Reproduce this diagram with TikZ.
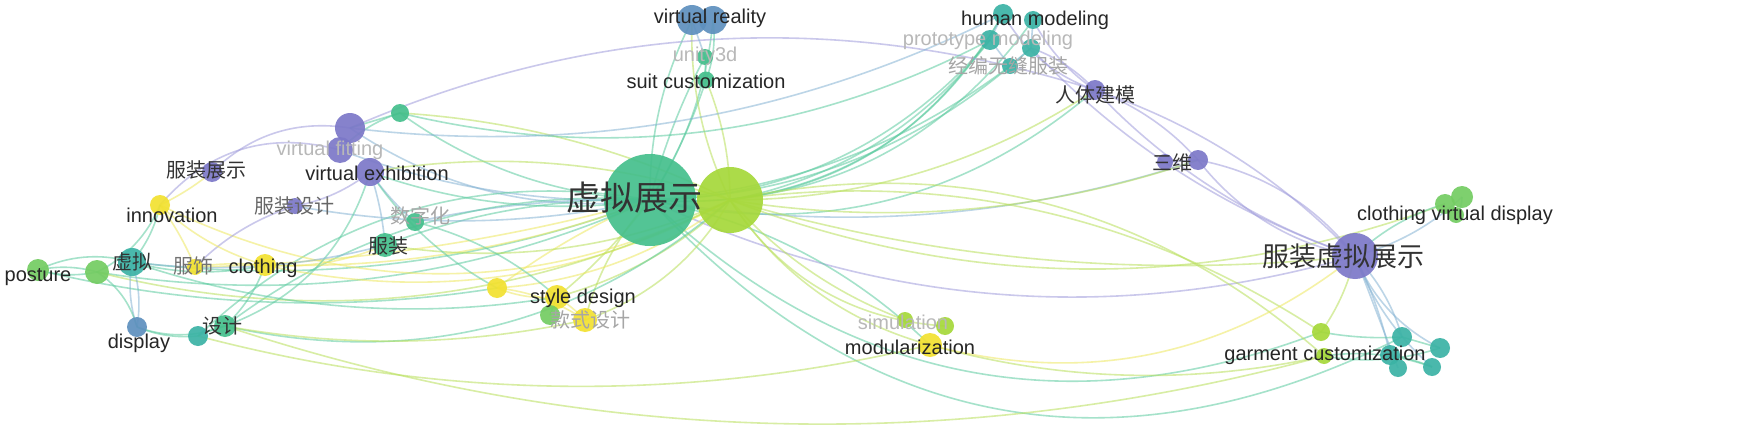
\documentclass[tikz,border=0pt]{standalone}
\usepackage{fontspec}
\setmainfont{Liberation Sans}
\newfontfamily\cjk{Noto Sans CJK SC}
\usetikzlibrary{backgrounds,calc}
\pgfdeclarelayer{bgzero}
\pgfsetlayers{bgzero,background,main}
\definecolor{cg}{HTML}{45BF8C}
\definecolor{cl}{HTML}{A6D83A}
\definecolor{cb}{HTML}{5E90BE}
\definecolor{ct}{HTML}{3BB3A5}
\definecolor{cp}{HTML}{7C78C8}
\definecolor{cy}{HTML}{F2E130}
\definecolor{cgr}{HTML}{74CC62}
\definecolor{eg}{HTML}{5CCBA0}
\definecolor{el}{HTML}{B8E05A}
\definecolor{ey}{HTML}{EEE860}
\definecolor{ep}{HTML}{A09CDC}
\definecolor{eb}{HTML}{86B4D4}
\tikzset{
 dot/.style={circle,inner sep=0pt,opacity=.92},
 lab/.style={font=\fontsize{20}{20}\selectfont,text=black!85,inner sep=0pt},
 clab/.style={font=\cjk\fontsize{20}{20}\selectfont,text=black!80,inner sep=0pt},
 flab/.style={font=\fontsize{20}{20}\selectfont,text=black!28,inner sep=0pt},
 fclab/.style={font=\cjk\fontsize{20}{20}\selectfont,text=black!35,inner sep=0pt},
 lnk/.style={line width=1.6pt,opacity=.55}
}
\begin{document}
\begin{tikzpicture}[x=1pt,y=-1pt]
\begin{pgfonlayer}{bgzero}
\fill[white] (0,0) rectangle (1750,428);
\end{pgfonlayer}
\useasboundingbox (0,0) rectangle (1750,428);
% nodes
\node[dot,fill=cg,minimum size=92] (A) at (650,200) {};
\node[dot,fill=cl,minimum size=66] (B) at (730,200) {};
\node[dot,fill=cb,minimum size=30] (vr1) at (692,20) {};
\node[dot,fill=cb,minimum size=28] (vr2) at (713,20) {};
\node[dot,fill=cg,minimum size=16] (un) at (705,57) {};
\node[dot,fill=cg,minimum size=17] (su) at (706,80) {};
\node[dot,fill=ct,minimum size=20] (h1) at (1003,14) {};
\node[dot,fill=ct,minimum size=18] (h2) at (1033,20) {};
\node[dot,fill=ct,minimum size=20] (h3) at (990,40) {};
\node[dot,fill=ct,minimum size=18] (h4) at (1031,48) {};
\node[dot,fill=ct,minimum size=16] (h5) at (1010,66) {};
\node[dot,fill=cp,minimum size=20] (rt) at (1095,90) {};
\node[dot,fill=cp,minimum size=16] (sw1) at (1165,162) {};
\node[dot,fill=cp,minimum size=20] (sw2) at (1198,160) {};
\node[dot,fill=cp,minimum size=46] (fz) at (1355,256) {};
\node[dot,fill=cgr,minimum size=22] (cv1) at (1462,197) {};
\node[dot,fill=cgr,minimum size=20] (cv2) at (1445,204) {};
\node[dot,fill=cgr,minimum size=16] (cv3) at (1456,215) {};
\node[dot,fill=cl,minimum size=18] (gc1) at (1321,332) {};
\node[dot,fill=cl,minimum size=16] (gc2) at (1324,356) {};
\node[dot,fill=ct,minimum size=20] (t1) at (1402,337) {};
\node[dot,fill=ct,minimum size=20] (t2) at (1390,355) {};
\node[dot,fill=ct,minimum size=20] (t3) at (1440,348) {};
\node[dot,fill=ct,minimum size=18] (t4) at (1432,367) {};
\node[dot,fill=ct,minimum size=18] (t5) at (1398,368) {};
\node[dot,fill=cy,minimum size=24] (mo) at (930,345) {};
\node[dot,fill=cl,minimum size=18] (si1) at (945,326) {};
\node[dot,fill=cl,minimum size=16] (si2) at (905,320) {};
\node[dot,fill=cy,minimum size=24] (sd) at (557,297) {};
\node[dot,fill=cy,minimum size=24] (ks) at (585,320) {};
\node[dot,fill=cgr,minimum size=20] (ksg) at (550,315) {};
\node[dot,fill=cy,minimum size=20] (y1) at (497,288) {};
\node[dot,fill=cg,minimum size=24] (fzh) at (385,245) {};
\node[dot,fill=cg,minimum size=18] (sz) at (415,222) {};
\node[dot,fill=cp,minimum size=28] (ve) at (370,172) {};
\node[dot,fill=cp,minimum size=30] (vf1) at (350,128) {};
\node[dot,fill=cp,minimum size=26] (vf2) at (340,150) {};
\node[dot,fill=cg,minimum size=18] (g1) at (400,113) {};
\node[dot,fill=cp,minimum size=20] (fzs) at (212,172) {};
\node[dot,fill=cy,minimum size=20] (inn) at (160,205) {};
\node[dot,fill=cp,minimum size=16] (fsj) at (295,206) {};
\node[dot,fill=ct,minimum size=28] (xn) at (132,262) {};
\node[dot,fill=cgr,minimum size=24] (xg) at (97,272) {};
\node[dot,fill=cgr,minimum size=22] (po) at (38,270) {};
\node[dot,fill=cy,minimum size=16] (fs) at (195,267) {};
\node[dot,fill=cy,minimum size=22] (clo) at (265,265) {};
\node[dot,fill=cb,minimum size=20] (di) at (137,327) {};
\node[dot,fill=ct,minimum size=20] (dt) at (198,336) {};
\node[dot,fill=cg,minimum size=22] (sj) at (225,326) {};
% edges
\begin{pgfonlayer}{background}
\foreach \na/\nb/\col/\bnd in {
 A/vr1/eg/10,A/vr2/eg/-10,A/un/eg/5,A/su/eg/-5,A/h1/eg/-25,A/h2/eg/-22,A/h3/eg/-18,A/h4/eg/-15,A/h5/eg/-12,
 A/rt/eg/-20,A/fz/ep/-15,A/sw2/eb/-10,A/ve/eg/10,A/vf1/eb/15,A/vf2/eb/8,A/g1/eg/12,A/fzh/eg/-8,A/sz/eb/-5,
 A/xn/eg/10,A/sj/eg/-15,A/dt/eg/-20,A/sd/el/5,A/ks/el/-10,A/y1/ey/-5,A/mo/eg/12,A/gc1/eg/-25,A/t1/eg/-30,A/clo/ey/8,A/fs/ey/5,A/xg/eg/12,A/fsj/eb/8,
 B/vr1/el/10,B/su/el/-8,B/h1/eg/-20,B/h3/eg/-15,B/rt/el/-12,B/sw2/el/-10,B/fz/el/-8,B/cv2/el/-15,B/gc1/el/15,B/gc2/el/20,
 B/mo/el/-15,B/si1/el/-20,B/si2/el/-10,B/sd/el/10,B/ks/el/15,B/y1/ey/12,B/clo/ey/15,B/inn/ey/20,B/fzh/el/12,B/sj/eg/20,B/ve/el/-10,B/g1/el/-8,B/xg/el/15,
 rt/h2/ep/10,rt/h4/ep/-10,rt/sw2/ep/10,rt/fz/ep/-10,rt/fz/ep/10,sw1/sw2/ep/0,sw2/fz/ep/-15,sw2/fz/ep/15,rt/vf1/ep/-15,h4/fz/ep/-10,
 fz/cv1/eb/-10,fz/cv2/eg/10,fz/t1/eb/10,fz/t2/eb/5,fz/t3/eb/-15,fz/t4/eb/-10,fz/gc1/el/8,fz/t5/eb/0,cv1/cv3/eg/15,
 gc1/t1/eg/-5,gc2/t4/eg/10,t1/t3/eg/0,t2/t4/eg/5,gc2/t3/eg/-10,mo/gc2/el/-10,mo/fz/ey/-20,sj/gc2/el/-12,
 vf1/fzs/ep/-20,vf2/inn/ep/-25,ve/fsj/ep/10,ve/fzh/eb/5,ve/sz/eb/-5,vf1/g1/eg/0,vf2/g1/eg/10,fzs/inn/ey/5,fsj/fs/ep/-10,
 inn/clo/ey/-10,inn/fs/ey/5,inn/xn/eg/10,inn/xg/eg/15,xn/po/eg/-15,xg/po/eg/10,xg/po/eg/-10,xn/di/eb/10,xn/di/eb/-10,xg/di/eg/15,
 di/dt/eg/-10,di/sj/eg/-15,dt/sj/eg/5,fs/clo/ey/5,xn/clo/eg/-10,clo/fzh/ey/-10,clo/sj/eg/10,sj/ve/eg/-20,xn/fzh/eb/-8,
 y1/sd/ey/-10,y1/ks/ey/10,sd/ks/ey/5,ksg/sd/eg/0,y1/ve/eg/10,sj/ks/el/-8,xn/sd/eg/-10,dt/mo/el/-10,po/y1/eg/-8,
 su/un/eg/0,un/vr1/eb/0,vr2/su/eg/10,h1/h3/eb/0,h2/h4/eb/0,h3/h5/eb/0,h4/h5/eb/0,h1/rt/ep/-15,g1/h3/eg/-15,vf1/h1/eb/-12,sz/sd/eg/10
}{\draw[lnk,\col] let \p1=(\na.center), \p2=(\nb.center),
   \n1={\bnd/120} in
   (\p1) .. controls ({\x1+(\x2-\x1)/3-\n1*(\y2-\y1)},{\y1+(\y2-\y1)/3+\n1*(\x2-\x1)})
   and ({\x1+2*(\x2-\x1)/3-\n1*(\y2-\y1)},{\y1+2*(\y2-\y1)/3+\n1*(\x2-\x1)}) .. (\p2);}
\end{pgfonlayer}
% labels
\node[lab] (l1) at (710,18) {virtual reality};
\node[flab] (l2) at (705,56) {unity3d};
\node[lab] (l3) at (706,81) {suit customization};
\node[lab] (l4) at (1035,20) {human modeling};
\node[flab] (l5) at (988,40) {prototype modeling};
\node[fclab] (l6) at (1008,66) {经编无缝服装};
\node[clab] (l7) at (1095,95) {人体建模};
\node[clab] (l8) at (1172,163) {三维};
\node[lab] (l9) at (1455,215) {clothing virtual display};
\node[clab,font=\cjk\fontsize{27}{27}\selectfont] (l10) at (1343,256) {服装虚拟展示};
\node[lab] (l11) at (1325,355) {garment customization};
\node[flab] (l12) at (903,322) {simulation};
\node[lab] (l13) at (910,347) {modularization};
\node[clab,font=\cjk\fontsize{34}{34}\selectfont] (l14) at (634,198) {虚拟展示};
\node[lab] (l15) at (583,298) {style design};
\node[fclab] (l16) at (590,320) {款式设计};
\node[clab] (l17) at (388,246) {服装};
\node[fclab] (l18) at (420,216) {数字化};
\node[lab] (l19) at (377,173) {virtual exhibition};
\node[flab] (l20) at (330,150) {virtual fitting};
\node[clab] (l21) at (206,170) {服装展示};
\node[lab] (l22) at (172,215) {innovation};
\node[clab,text=black!60] (l23) at (294,206) {服装设计};
\node[clab] (l24) at (132,262) {虚拟};
\node[lab] (l25) at (38,277) {posture};
\node[clab,text=black!55] (l26) at (193,266) {服饰};
\node[lab] (l27) at (263,268) {clothing};
\node[lab] (l28) at (139,343) {display};
\node[clab] (l29) at (222,326) {设计};
\end{tikzpicture}
\end{document}
